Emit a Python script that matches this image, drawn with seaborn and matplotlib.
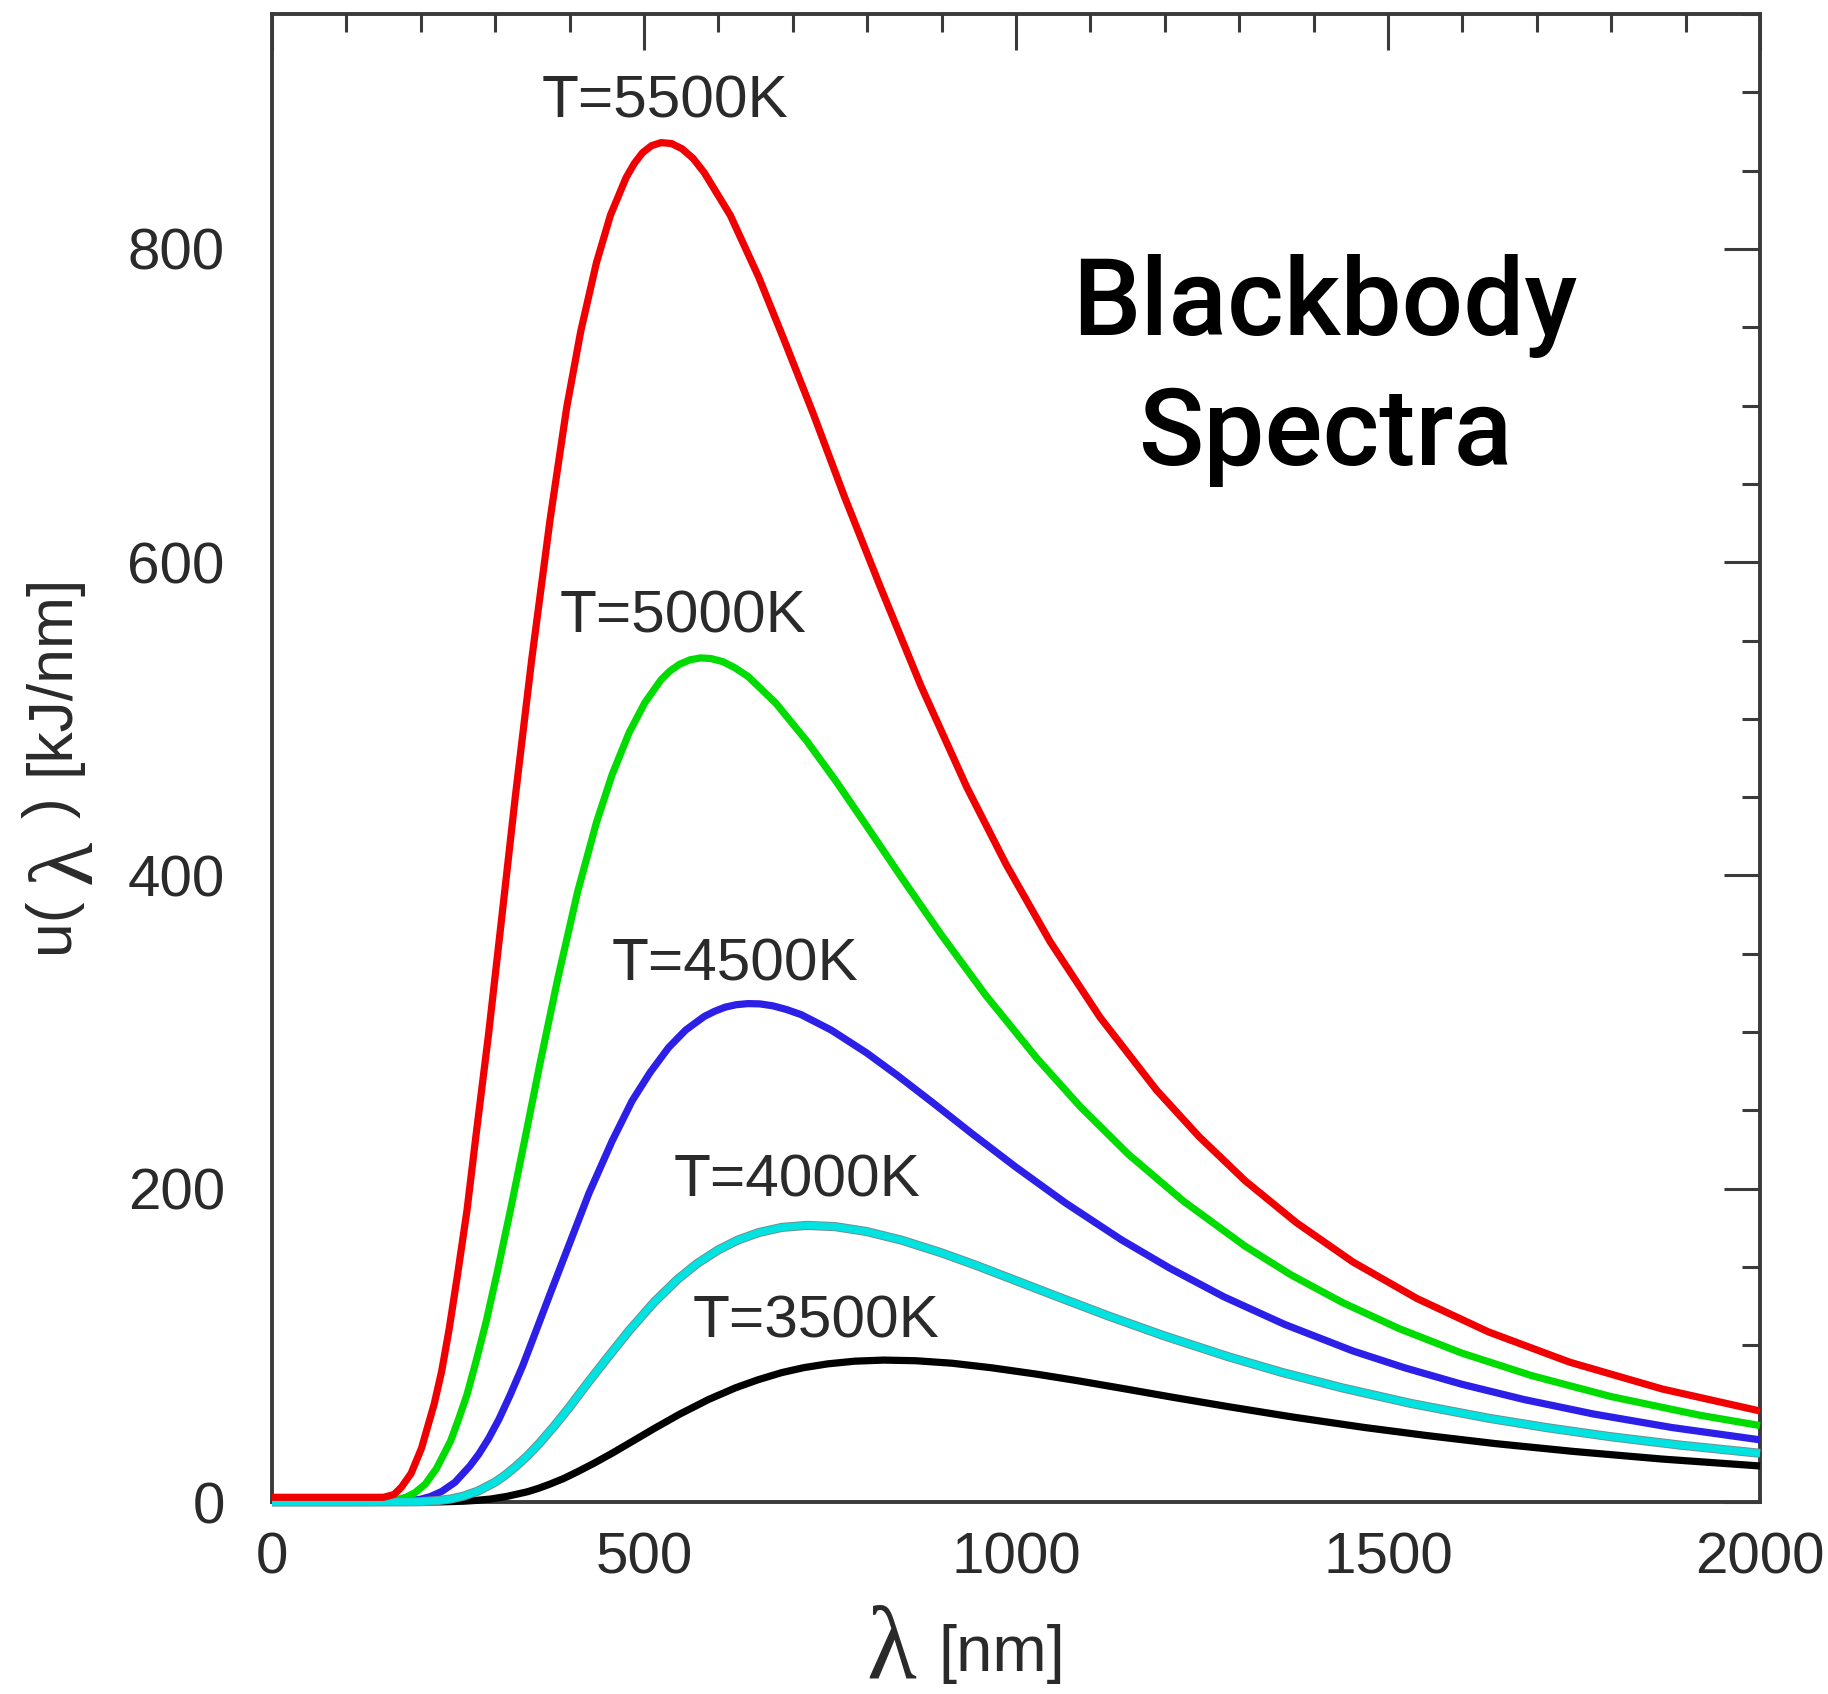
import matplotlib
matplotlib.use("Agg")
import matplotlib.pyplot as plt
import matplotlib.patheffects as pe
from matplotlib.ticker import MultipleLocator
import pandas as pd
import seaborn as sns

# Spectral energy density u(lambda) in kJ/nm, one curve per temperature
temps = ["T=5500K", "T=5000K", "T=4500K", "T=4000K", "T=3500K"]

wl_5500 = [0, 100, 150, 164, 174, 187, 201, 218, 228, 238, 249, 262, 275, 291, 308,
           327, 349, 374, 396, 415, 436, 455, 476, 487, 498, 510, 523, 537, 551, 566,
           581, 616, 654, 688, 727, 769, 818, 872, 934, 987, 1046, 1113, 1189, 1246,
           1308, 1377, 1453, 1539, 1635, 1744, 1869, 2000]
u_5500 = [3, 3, 3, 4.8, 9.5, 18.3, 34.4, 62.6, 83.4, 110.1, 143.9, 185.9, 237.2, 298.4,
          369.7, 450.2, 537.7, 628.1, 698.5, 747.5, 791.1, 821.7, 845.6, 854.6, 861.4,
          865.9, 867.9, 867.3, 864.0, 857.8, 848.7, 821.5, 782.2, 742.3, 695.4, 642.3,
          583.8, 521.3, 456.2, 406.8, 357.6, 309.4, 262.9, 233.3, 205.1, 178.3, 153.2,
          129.9, 108.6, 89.3, 72.1, 58.1]

wl_5000 = [0, 100, 144, 160, 180, 192, 206, 221, 240, 250, 262, 274, 288, 303, 320,
           339, 360, 384, 411, 436, 457, 480, 501, 523, 535, 548, 562, 576, 590, 606,
           622, 640, 677, 719, 757, 799, 846, 899, 959, 1028, 1086, 1151, 1225, 1308,
           1370, 1439, 1515, 1599, 1693, 1799, 1918, 2000]
u_5000 = [0, 0, 0.2, 0.7, 3.0, 5.9, 11.4, 21.3, 38.9, 51.8, 68.4, 89.4, 115.4, 147.3,
          185.3, 229.6, 279.5, 333.9, 390.0, 433.7, 464.2, 491.2, 510.2, 525.0, 530.6,
          534.9, 537.7, 538.9, 538.5, 536.5, 532.6, 527.0, 510.1, 485.7, 460.9, 431.8,
          398.8, 362.5, 323.7, 283.3, 252.6, 222.0, 192.1, 163.3, 144.9, 127.3, 110.7,
          95.1, 80.7, 67.4, 55.5, 48.8]

wl_4500 = [0, 100, 160, 178, 200, 213, 228, 246, 266, 278, 291, 305, 320, 337, 355,
           376, 400, 426, 457, 484, 508, 533, 556, 581, 595, 609, 624, 640, 656, 673,
           691, 711, 752, 799, 841, 888, 940, 999, 1066, 1142, 1207, 1279, 1361, 1453,
           1523, 1599, 1683, 1776, 1881, 2000]
u_4500 = [0, 0, 0.1, 0.4, 1.8, 3.5, 6.7, 12.6, 23.0, 30.6, 40.4, 52.8, 68.2, 87.0,
          109.4, 135.6, 165.1, 197.1, 230.3, 256.1, 274.1, 290.1, 301.3, 310.0, 313.3,
          315.9, 317.5, 318.2, 318.0, 316.8, 314.5, 311.2, 301.2, 286.8, 272.2, 255.0,
          235.5, 214.1, 191.1, 167.3, 149.2, 131.1, 113.4, 96.4, 85.6, 75.2, 65.4,
          56.2, 47.6, 39.7]

wl_4000 = [0, 100, 180, 200, 225, 240, 257, 277, 300, 313, 327, 343, 360, 379, 400,
           423, 450, 480, 514, 545, 571, 600, 626, 654, 685, 719, 757, 799, 846, 899,
           947, 999, 1058, 1124, 1199, 1285, 1357, 1439, 1531, 1635, 1713, 1799, 1893,
           2000]
u_4000 = [0, 0, 0.1, 0.2, 1.0, 1.9, 3.7, 7.0, 12.7, 17.0, 22.4, 29.3, 37.8, 48.3, 60.7,
          75.2, 91.6, 109.4, 127.8, 142.1, 152.1, 161.0, 167.2, 172.0, 175.3, 176.6,
          175.8, 172.7, 167.2, 159.2, 151.0, 141.5, 130.7, 118.8, 106.1, 92.8, 82.8,
          72.8, 62.9, 53.5, 47.5, 41.7, 36.3, 31.1]

wl_3500 = [0, 100, 206, 228, 257, 274, 294, 316, 343, 358, 374, 392, 411, 433, 457,
           484, 514, 548, 587, 623, 653, 685, 715, 747, 783, 822, 865, 914, 967, 1028,
           1082, 1142, 1209, 1285, 1370, 1468, 1551, 1644, 1749, 1869, 1958, 2000]
u_3500 = [0, 0, 0.0, 0.1, 0.5, 1.0, 1.9, 3.6, 6.5, 8.7, 11.5, 15.0, 19.4, 24.8, 31.1,
          38.6, 47.0, 56.1, 65.5, 72.9, 78.0, 82.6, 85.8, 88.2, 89.9, 90.6, 90.2, 88.6,
          85.7, 81.6, 77.5, 72.6, 67.0, 60.9, 54.4, 47.6, 42.5, 37.3, 32.3, 27.4, 24.4,
          23.0]

colors = {"T=5500K": "#f00000", "T=5000K": "#00dc00", "T=4500K": "#2c1fe8",
          "T=4000K": "#00e3e0", "T=3500K": "#000000"}

# label anchor (wavelength, u) for each curve's text
label_pos = {"T=5500K": (528, 884), "T=5000K": (552, 555), "T=4500K": (622, 333),
             "T=4000K": (706, 195), "T=3500K": (731, 105)}

series = {"T=5500K": (wl_5500, u_5500), "T=5000K": (wl_5000, u_5000),
          "T=4500K": (wl_4500, u_4500), "T=4000K": (wl_4000, u_4000),
          "T=3500K": (wl_3500, u_3500)}
frames = []
for name, (wl, u) in series.items():
    frames.append(pd.DataFrame({"wavelength": wl, "u": u, "T": name}))
df = pd.concat(frames, ignore_index=True)

sns.set_theme(style="white")
plt.rcParams["font.family"] = ["Liberation Sans", "DejaVu Sans"]

W, H = 1828, 1694
fig = plt.figure(figsize=(W / 100, H / 100), dpi=100)
fig.patch.set_facecolor("white")
ax = fig.add_axes([272 / W, (H - 1502) / H, (1760 - 272) / W, (1502 - 14) / H])
ax.set_facecolor("white")

draw_order = ["T=3500K", "T=4500K", "T=5000K", "T=4000K", "T=5500K"]
sns.lineplot(data=df, x="wavelength", y="u", hue="T", hue_order=draw_order,
             palette=colors, estimator=None, sort=False, legend=False, ax=ax)
LW = 5.2
for line in ax.lines:
    line.set_linewidth(LW)
    line.set_clip_on(False)
    line.set_zorder(3)
    line.set_solid_capstyle("butt")
    line.set_solid_joinstyle("round")
    if line.get_color() == "#00e3e0":
        line.set_path_effects([pe.Stroke(linewidth=LW + 1.4, foreground="#6f8f8f"),
                               pe.Normal()])

ax.set_xlim(0, 2000)
ax.set_ylim(0, 950)
ax.set_xlabel("")
ax.set_ylabel("")
ax.xaxis.set_major_locator(MultipleLocator(500))
ax.xaxis.set_minor_locator(MultipleLocator(100))
ax.yaxis.set_major_locator(MultipleLocator(200))
ax.yaxis.set_minor_locator(MultipleLocator(50))

edge = "#3a3a3a"
for sp in ax.spines.values():
    sp.set_visible(True)
    sp.set_linewidth(2.8)
    sp.set_color(edge)
ax.tick_params(which="both", direction="in", top=True, right=True,
               color=edge, labelcolor="#2a2a2a", labelsize=42)
ax.tick_params(which="major", length=26, width=2.2)
ax.tick_params(which="minor", length=13, width=2.2)
ax.tick_params(axis="x", which="major", pad=21)
ax.tick_params(axis="y", which="major", pad=34)

for name, (lx, ly) in label_pos.items():
    ax.text(lx, ly, name, ha="center", va="baseline", fontsize=43.5, color="#2a2a2a")

# axis titles built from pieces so the lambda can be set larger
def fx(px):
    return px / W

def fy(py):
    return (H - py) / H

greek = ["Liberation Serif", "DejaVu Serif"]
fig.text(fx(866), fy(1677), "λ", fontsize=74, color="#2a2a2a", ha="left", va="baseline",
         family=greek)
fig.text(fx(938), fy(1671), "[nm]", fontsize=47, color="#2a2a2a", ha="left", va="baseline")

rot = dict(rotation=90, rotation_mode="anchor", ha="left", va="baseline", color="#2a2a2a")
fig.text(fx(68), fy(953), "u(", fontsize=45, **rot)
fig.text(fx(91), fy(884), "λ", fontsize=66, family=greek, **rot)
fig.text(fx(68), fy(818), ")", fontsize=45, **rot)
fig.text(fx(68), fy(775), "[kJ/nm]", fontsize=45, **rot)

fig.text(fx(1325), fy(335), "Blackbody", fontsize=78, family=["Roboto", "DejaVu Sans"],
         weight="medium", color="black", ha="center", va="baseline")
fig.text(fx(1325), fy(465), "Spectra", fontsize=78, family=["Roboto", "DejaVu Sans"],
         weight="medium", color="black", ha="center", va="baseline")

fig.savefig("out.png", dpi=100, facecolor="white")
